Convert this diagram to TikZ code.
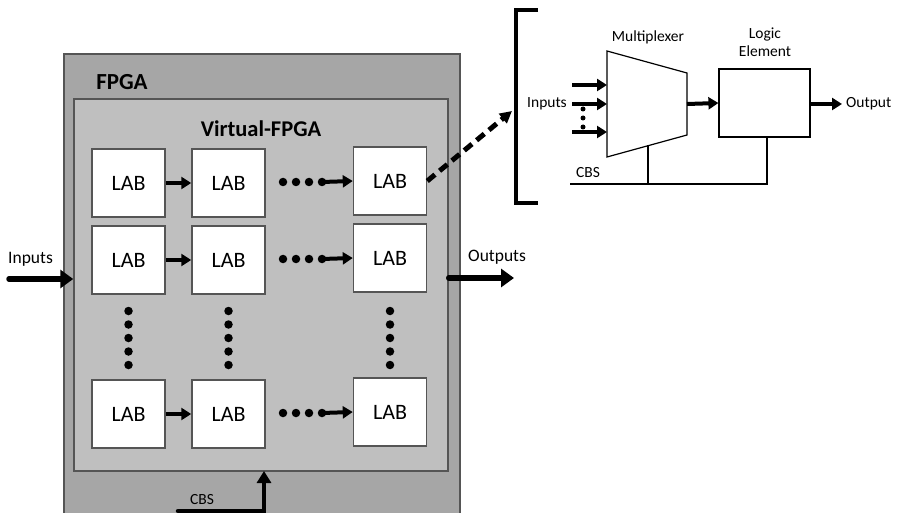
\documentclass[tikz,border=0pt]{standalone}
\usepackage{fontspec}
\setmainfont{Carlito}
\usetikzlibrary{arrows.meta}
\definecolor{outergray}{HTML}{A6A6A6}
\definecolor{innergray}{HTML}{BFBFBF}
\definecolor{edgegray}{HTML}{555555}
\tikzset{
  lab/.style={draw=edgegray, line width=1.5pt, fill=white, minimum width=73pt, minimum height=68pt,
    inner sep=0pt, font=\fontsize{22}{26}\selectfont},
  flow/.style={line width=5.5pt, line cap=round, -{Triangle[length=13pt,width=18pt]}},
  thinflow/.style={line width=4pt, -{Triangle[length=10pt,width=12pt]}},
  dotmark/.style={circle, fill=black, inner sep=0pt, minimum size=8.5pt},
  smalldot/.style={circle, fill=black, inner sep=0pt, minimum size=5pt},
  lbl/.style={inner sep=0pt, font=\fontsize{17.5}{21}\selectfont},
  smalllbl/.style={inner sep=0pt, font=\fontsize{15.5}{19}\selectfont},
}
\begin{document}
\begin{tikzpicture}[x=1pt, y=-1pt]
\useasboundingbox (0,0) rectangle (897,513);

% FPGA chip and the virtual FPGA overlay inside it
\fill[outergray] (64,54) rectangle (460,513);
\draw[edgegray, line width=1.5pt] (64,513) -- (64,54) -- (460,54) -- (460,513);
\node[draw=edgegray, line width=1.5pt, fill=innergray, minimum width=374pt, minimum height=372pt,
  inner sep=0pt] (vfpga) at (261,285) {};
\node[inner sep=0pt, font=\fontsize{23}{27}\selectfont\bfseries] (fpgalbl) at (122,82) {FPGA};
\node[inner sep=0pt, font=\fontsize{22.5}{27}\selectfont\bfseries] (vlbl) at (261,129) {Virtual-FPGA};

% grid of logic array blocks
\node[lab] (a1) at (128.5,183) {LAB};
\node[lab] (a2) at (228.5,183) {LAB};
\node[lab] (a3) at (390,181) {LAB};
\node[lab] (b1) at (128.5,260) {LAB};
\node[lab] (b2) at (228.5,260) {LAB};
\node[lab] (b3) at (390,258) {LAB};
\node[lab] (c1) at (128.5,414) {LAB};
\node[lab] (c2) at (228.5,414) {LAB};
\node[lab] (c3) at (390,412) {LAB};

\draw[thinflow] (a1) -- (a2);
\draw[thinflow] (b1) -- (b2);
\draw[thinflow] (c1) -- (c2);

% elided columns between the second and last LAB of each row
\foreach \r/\y in {a/182, b/259, c/413} {
  \foreach \x [count=\i] in {283,296,309,322} {
    \node[dotmark] (\r h\i) at (\x,\y) {};
  }
  \draw[thinflow] (\r h4.center) -- (\r3.west);
}

% elided rows
\foreach \c/\x in {1/128.5, 2/228.5, 3/390} {
  \foreach \y [count=\i] in {311,324.5,338,351.5,365} {
    \node[dotmark] (v\c\i) at (\x,\y) {};
  }
}

% primary inputs and outputs
\coordinate (inStart) at (9,279);
\coordinate (outEnd) at (514,278);
\draw[flow] (inStart) -- (inStart -| vfpga.west);
\node[lbl, anchor=south west] (inlbl) at (8,267) {Inputs};
\draw[flow] (outEnd -| vfpga.east) -- (outEnd);
\node[lbl, anchor=south west] (outlbl) at (468,265) {Outputs};

% configuration bitstream into the virtual FPGA
\coordinate (cbsStart) at (178,511);
\draw[line width=4.5pt, line cap=round, -{Triangle[length=12pt,width=14pt]}]
  (cbsStart) -| (264,471);
\node[smalllbl] (cbslbl) at (202,500) {CBS};

% detail of one LAB
\coordinate (brTop) at (538,10);
\coordinate (brBot) at (538,203);
\draw[line width=4pt] (brTop) -- (516,10) -- (516,203) -- (brBot);
\coordinate (brMid) at (512,111);
\draw[line width=5pt, dash pattern=on 10pt off 6pt, -{Triangle[length=12pt,width=12pt]}]
  (a3.east) -- (brMid);

% multiplexer
\coordinate (mTL) at (607,51);
\coordinate (mBL) at (607,157);
\coordinate (mTR) at (687,73);
\coordinate (mBR) at (687,135);
\draw[line width=1.2pt] (mTL) -- (mTR) -- (mBR) -- (mBL) -- cycle;
\coordinate (mOut) at (687,104);
\coordinate (mSel) at (648,145.5);
\node[smalllbl] (mlbl) at (648,37) {Multiplexer};

% logic element
\node[draw, line width=1.2pt, minimum width=91pt, minimum height=68pt, inner sep=0pt] (le) at (764.5,103) {};
\node[smalllbl, align=center, font=\fontsize{15.5}{18}\selectfont] (lelbl) at (765,42) {Logic\\Element};

% multiplexer inputs
\foreach \y [count=\i] in {85,104,132} {
  \coordinate (mi\i) at (572,\y);
  \draw[thinflow] (mi\i) -- (607,\y);
}
\foreach \y [count=\i] in {109,118,127} {
  \node[smalldot] (md\i) at (583,\y) {};
}
\node[smalllbl] (milbl) at (547,104) {Inputs};

\draw[thinflow] (mOut) -- (le.west);
\coordinate (leOut) at (842,104);
\draw[thinflow] (le.east |- leOut) -- (leOut);
\node[smalllbl, anchor=west] (olbl) at (846,104) {Output};

% configuration bits feeding the multiplexer and logic element
\coordinate (cbsL) at (570,184);
\draw[line width=2.4pt] (cbsL) -- (767,184) -- (le.south -| 767,0);
\draw[line width=2.4pt] (mSel) -- (648,184);
\node[smalllbl] (cbs2) at (588,173) {CBS};
\end{tikzpicture}
\end{document}
